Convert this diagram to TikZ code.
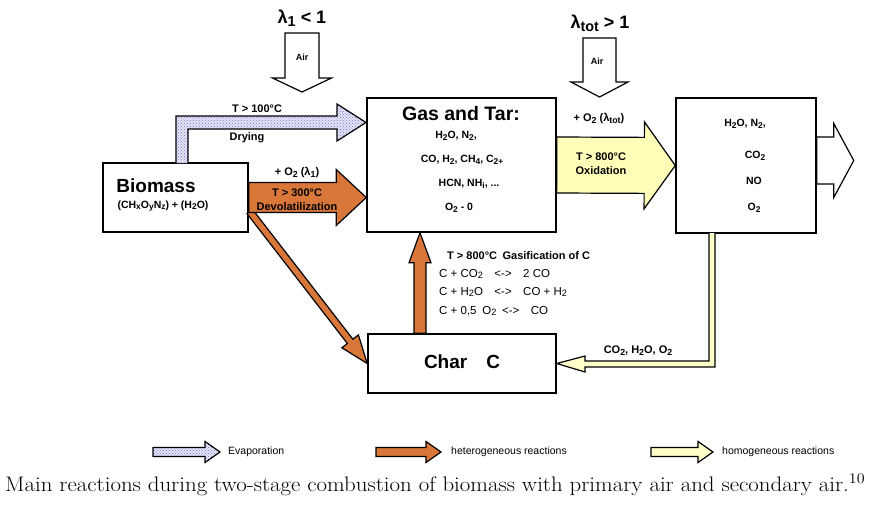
\documentclass[tikz,border=0pt]{standalone}
\usepackage{fontspec}
\usepackage{graphicx}
\usepackage{tikz}
\usetikzlibrary{calc,patterns}
\newfontfamily\arial{Liberation Sans}
\definecolor{devorange}{HTML}{D9773A}
\definecolor{oxyellow}{HTML}{FFFFB9}
\definecolor{legyellow}{HTML}{FFFFC9}
\definecolor{dotblue}{HTML}{7474CC}
\definecolor{dotback}{HTML}{E4E4F6}
\newcommand\lo[1]{\raisebox{-0.3ex}{\scalebox{0.8}{#1}}}
\newcommand\blockarrow[6]{%
  \path[#1] let \p1=(#2), \p2=(#3), \n1={veclen(\x2-\x1,\y2-\y1)},
    \n2={(\x2-\x1)/\n1}, \n3={(\y2-\y1)/\n1} in
    ({\x1-#4*\n3},{\y1+#4*\n2})
    -- ({\x2-#6*\n2-#4*\n3},{\y2-#6*\n3+#4*\n2})
    -- ({\x2-#6*\n2-#5*\n3},{\y2-#6*\n3+#5*\n2})
    -- (\p2)
    -- ({\x2-#6*\n2+#5*\n3},{\y2-#6*\n3-#5*\n2})
    -- ({\x2-#6*\n2+#4*\n3},{\y2-#6*\n3-#4*\n2})
    -- ({\x1+#4*\n3},{\y1-#4*\n2}) -- cycle;}
\begin{document}
\begin{tikzpicture}[x=1pt, y=-1pt, line join=miter,
  box/.style={draw, line width=1.5pt, fill=white, inner sep=0pt},
  arr/.style={draw, line width=1.2pt},
  dots/.style={preaction={fill=dotback}, pattern=crosshatch dots, pattern color=dotblue},
  big/.style={font=\arial\bfseries\fontsize{19}{21}\selectfont, inner sep=0pt},
  lab/.style={font=\arial\bfseries\fontsize{11}{14}\selectfont, inner sep=0pt},
  gasl/.style={font=\arial\bfseries\fontsize{10.5}{12}\selectfont, inner sep=0pt},
  chem/.style={font=\arial\fontsize{11.5}{13}\selectfont, anchor=west, inner sep=0pt},
  leg/.style={font=\arial\fontsize{10.5}{12}\selectfont, anchor=west, inner sep=0pt}]
\useasboundingbox (0,0) rectangle (870,512);
\node[box, minimum width=145pt, minimum height=69pt] (bio) at (175.5,197.5) {};
\node[box, minimum width=189pt, minimum height=134pt] (gas) at (461.5,165) {};
\node[box, minimum width=188pt, minimum height=59pt] (char) at (462,363.5) {};
\node[box, minimum width=140pt, minimum height=135pt] (flue) at (746,165.5) {};
\coordinate (air1top) at (302,33);
\coordinate (air1tip) at (302,92);
\coordinate (air2top) at (599.5,38);
\coordinate (air2tip) at (599.5,97);
\coordinate (diagS) at ($(bio.east)+(1,14)$);
\coordinate (gasiS) at ($(char.north)+(-42,0)$);
\coordinate (gasiE) at ($(gas.south)+(-41.5,0)$);
\coordinate (exitE) at ($(flue.east)+(37,-5)$);
\coordinate (exitS) at ($(flue.east)+(0,-5)$);
\blockarrow{arr, fill=white}{air1top}{air1tip}{17}{29.5}{14}
\blockarrow{arr, fill=white}{air2top}{air2tip}{16.5}{28.5}{15}
\draw[arr, dots] (176,163) -- (176,116) -- (337,116) -- (337,104) -- (366,122.5)
  -- (337,141) -- (337,129) -- (188,129) -- (188,163);
\blockarrow{arr, fill=devorange}{diagS}{char.west}{3.5}{10.5}{28}
\blockarrow{arr, fill=devorange}{bio.east}{gas.west |- bio.east}{15}{28}{30}
\blockarrow{arr, fill=devorange}{gasiS}{gasiE}{6}{11}{30}
\blockarrow{arr, fill=oxyellow}{gas.east}{flue.west}{28}{43.5}{31}
\blockarrow{arr, fill=white}{exitS}{exitE}{23.5}{37}{20}
\draw[arr, fill=legyellow] (709,233) -- (709,361) -- (585,361) -- (585,356) -- (char.east)
  -- (585,372) -- (585,367) -- (715,367) -- (715,233);
\node[big, font=\arial\bfseries\fontsize{18}{20}\selectfont] (lam1) at (302,18) {λ\lo{1} < 1};
\node[lab, font=\arial\bfseries\fontsize{9}{11}\selectfont] (air1) at (302,57) {Air};
\node[big, font=\arial\bfseries\fontsize{18}{20}\selectfont] (lamtot) at (600,23) {λ\lo{tot} > 1};
\node[lab, font=\arial\bfseries\fontsize{9}{11}\selectfont] (air2) at (597,61) {Air};
\node[lab] (dryT) at (257,109) {T > 100°C};
\node[lab] (dry) at (247,138) {Drying};
\node[lab] (devO) at (297,173) {+ O\lo{2} (λ\lo{1})};
\node[lab, align=center] (devT) at (297,200) {T > 300°C\\Devolatilization};
\node[big] (bioT) at (156,186) {Biomass};
\node[lab, font=\arial\bfseries\fontsize{10.5}{12}\selectfont] (bioF) at (163,206) {(CH\lo{x}O\lo{y}N\lo{z}) + (H\lo{2}O)};
\node[big, font=\arial\bfseries\fontsize{19.5}{21}\selectfont] (gasT) at (461,114) {Gas and Tar:};
\node[gasl] (gas1) at (456,136) {H\lo{2}O, N\lo{2},};
\node[gasl] (gas2) at (462,160) {CO, H\lo{2}, CH\lo{4}, C\lo{2+}};
\node[gasl] (gas3) at (469,184) {HCN, NH\lo{i}, ...};
\node[gasl] (gas4) at (459,208) {O\lo{2} - 0};
\node[lab] (oxO) at (599,119) {+ O\lo{2} (λ\lo{tot})};
\node[lab, align=center] (oxT) at (601,164) {T > 800°C\\Oxidation};
\node[gasl] (flue1) at (745,124) {H\lo{2}O, N\lo{2},};
\node[gasl] (flue2) at (755,156) {CO\lo{2}};
\node[gasl] (flue3) at (754,181) {NO};
\node[gasl] (flue4) at (754,208) {O\lo{2}};
\node[big] (charT) at (462,362) {Char\quad C};
\node[lab, anchor=west] (gasiT) at (447,256) {T > 800°C\enspace Gasification of C};
\node[chem] (r1) at (439,274) {C + CO\lo{2}\quad <->\quad 2 CO};
\node[chem] (r2) at (439,292) {C + H\lo{2}O\quad <->\quad CO + H\lo{2}};
\node[chem] (r3) at (439,311) {C + 0,5\enspace O\lo{2}\enspace <->\quad CO};
\node[lab] (ret) at (638,351) {CO\lo{2}, H\lo{2}O, O\lo{2}};
\coordinate (legAs) at (153,452);
\coordinate (legAe) at (220,452);
\coordinate (legBs) at (376,452);
\coordinate (legBe) at (441,452);
\coordinate (legCs) at (651,452);
\coordinate (legCe) at (713,452);
\blockarrow{arr, dots}{legAs}{legAe}{4.5}{10.5}{15}
\blockarrow{arr, fill=devorange}{legBs}{legBe}{4.5}{10.5}{15}
\blockarrow{arr, fill=legyellow}{legCs}{legCe}{4.5}{10.5}{15}
\node[leg] (legA) at (228,452) {Evaporation};
\node[leg] (legB) at (451,452) {heterogeneous reactions};
\node[leg] (legC) at (722,452) {homogeneous reactions};
\node[anchor=west, inner sep=0pt, font=\fontsize{21}{25}\selectfont] (caption) at (5,485) {\scalebox{1.09}[1]{Main reactions during two-stage combustion of biomass with primary air and secondary air.\textsuperscript{10}}};
\end{tikzpicture}
\end{document}
